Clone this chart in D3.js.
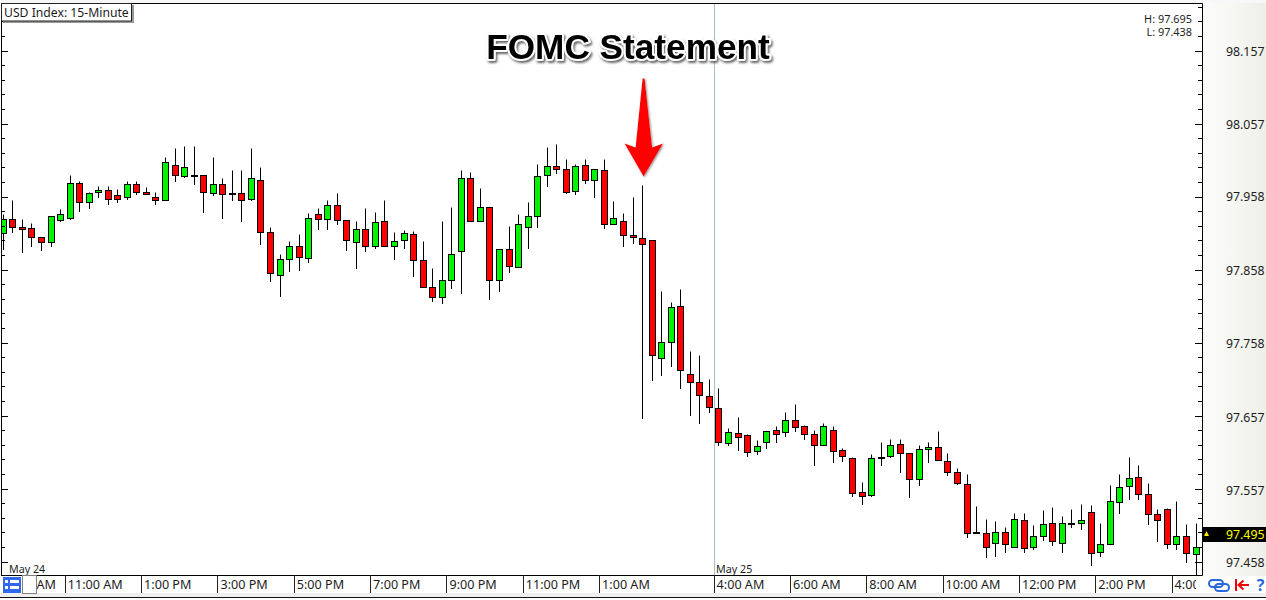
<!DOCTYPE html>
<html><head><meta charset="utf-8">
<script src="https://cdn.jsdelivr.net/npm/d3@7/dist/d3.min.js"></script>
<style>
html,body{margin:0;padding:0;background:#fff;overflow:hidden}
svg{display:block}
text{font-family:"Noto Sans",sans-serif;fill:#1c1c1c}
</style></head><body>
<script>
const opens=[97.908,97.927,97.916,97.914,97.902,97.895,97.925,97.928,97.976,97.950,
97.964,97.966,97.960,97.956,97.975,97.964,97.957,97.953,98.001,97.986,
97.987,97.987,97.962,97.975,97.962,97.962,97.954,97.980,97.909,97.850,
97.872,97.890,97.873,97.934,97.927,97.946,97.925,97.895,97.913,97.890,
97.924,97.890,97.898,97.906,97.871,97.834,97.820,97.843,97.883,97.982,
97.924,97.943,97.843,97.886,97.861,97.916,97.931,97.987,97.999,97.995,
97.965,98.001,97.980,97.994,97.919,97.924,97.905,97.901,97.898,97.736,
97.758,97.807,97.714,97.704,97.684,97.668,97.620,97.634,97.631,97.609,
97.621,97.638,97.635,97.652,97.643,97.632,97.617,97.638,97.611,97.599,
97.553,97.549,97.601,97.602,97.619,97.606,97.571,97.612,97.615,97.595,
97.580,97.564,97.498,97.497,97.483,97.498,97.478,97.515,97.478,97.493,
97.511,97.483,97.510,97.511,97.526,97.471,97.482,97.539,97.561,97.574,
97.550,97.523,97.530,97.482,97.493,97.468];
const highs=[97.933,97.952,97.927,97.921,97.902,97.931,97.940,97.987,97.979,97.964,
97.972,97.971,97.968,97.979,97.979,97.970,97.964,98.012,98.023,98.027,
98.027,97.987,98.012,97.983,97.993,97.994,98.023,97.997,97.916,97.879,
97.897,97.906,97.935,97.942,97.953,97.962,97.925,97.924,97.942,97.936,
97.953,97.909,97.912,97.910,97.897,97.860,97.924,97.943,97.994,97.991,
97.969,97.943,97.886,97.917,97.934,97.950,98.002,98.025,98.029,98.009,
98.002,98.008,97.995,98.008,97.951,97.935,97.957,97.973,97.898,97.828,
97.813,97.831,97.746,97.740,97.708,97.695,97.641,97.656,97.632,97.624,
97.636,97.643,97.662,97.673,97.645,97.638,97.647,97.643,97.613,97.601,
97.567,97.605,97.621,97.625,97.625,97.606,97.617,97.621,97.637,97.606,
97.586,97.578,97.534,97.516,97.513,97.505,97.524,97.524,97.508,97.528,
97.533,97.520,97.530,97.537,97.535,97.511,97.563,97.578,97.601,97.590,
97.565,97.530,97.531,97.541,97.509,97.511];
const lows=[97.886,97.909,97.881,97.889,97.884,97.889,97.924,97.926,97.938,97.941,
97.956,97.947,97.950,97.954,97.961,97.961,97.947,97.953,97.978,97.984,
97.974,97.936,97.959,97.928,97.952,97.924,97.952,97.892,97.842,97.821,
97.855,97.857,97.868,97.913,97.913,97.919,97.884,97.859,97.883,97.887,
97.890,97.872,97.887,97.848,97.834,97.814,97.811,97.832,97.825,97.924,
97.924,97.817,97.828,97.854,97.861,97.887,97.915,97.971,97.989,97.962,
97.961,97.976,97.956,97.914,97.919,97.889,97.894,97.654,97.706,97.713,
97.726,97.695,97.658,97.647,97.662,97.617,97.617,97.611,97.602,97.605,
97.613,97.621,97.629,97.636,97.625,97.590,97.617,97.594,97.595,97.547,
97.536,97.548,97.590,97.601,97.581,97.546,97.563,97.594,97.597,97.576,
97.564,97.492,97.497,97.464,97.465,97.471,97.478,97.471,97.475,97.488,
97.480,97.471,97.505,97.503,97.453,97.465,97.482,97.524,97.544,97.544,
97.509,97.486,97.476,97.475,97.458,97.440];
const closes=[97.927,97.916,97.913,97.902,97.895,97.931,97.934,97.976,97.950,97.962,
97.966,97.954,97.954,97.975,97.964,97.961,97.953,98.005,97.987,97.998,
97.986,97.964,97.975,97.961,97.961,97.953,97.982,97.909,97.852,97.872,
97.890,97.875,97.928,97.927,97.946,97.925,97.898,97.913,97.890,97.923,
97.890,97.897,97.908,97.871,97.834,97.820,97.843,97.879,97.983,97.924,
97.943,97.843,97.886,97.862,97.919,97.931,97.986,97.999,97.995,97.964,
97.999,97.980,97.995,97.919,97.928,97.905,97.902,97.892,97.740,97.758,
97.806,97.720,97.704,97.686,97.669,97.621,97.635,97.628,97.608,97.616,
97.636,97.632,97.652,97.642,97.632,97.617,97.643,97.609,97.602,97.552,
97.547,97.599,97.599,97.617,97.606,97.571,97.612,97.615,97.597,97.580,
97.565,97.497,97.497,97.478,97.498,97.482,97.516,97.476,97.493,97.509,
97.486,97.511,97.511,97.515,97.470,97.482,97.541,97.560,97.572,97.550,
97.523,97.515,97.482,97.493,97.470,97.478];
const priceLabels=["98.157","98.057","97.958","97.858","97.758","97.657","97.557","97.458"];
const timeLabels=["9:00 AM","11:00 AM","1:00 PM","3:00 PM","5:00 PM","7:00 PM","9:00 PM","11:00 PM","1:00 AM","4:00 AM","6:00 AM","8:00 AM","10:00 AM","12:00 PM","2:00 PM","4:00 PM"];
const timeBars=[1.75,8,16,24,32,40,48,56,64,76,84,92,100,108,116,124];
const dateLabels=["May 24","May 25"];
const dateBars=[1,76];
const chartTitle="USD Index: 15-Minute";
const headline="FOMC Statement";
const highLow=["H: 97.695","L: 97.438"];
const lastPrice=97.495;
const eventBar=68;

const W=1266,H=600,L=1,T=3,R=1202,B=575;
const svg=d3.select("body").append("svg").attr("width",W).attr("height",H);
const defs=svg.append("defs");
const grad=defs.append("linearGradient").attr("id","panel");
grad.append("stop").attr("offset","0").attr("stop-color","#fcfcfb");
grad.append("stop").attr("offset","1").attr("stop-color","#efefe9");
defs.append("clipPath").attr("id","plot").append("rect").attr("x",L).attr("y",T).attr("width",R-L).attr("height",B-T);
defs.append("clipPath").attr("id","strip").append("rect").attr("x",L).attr("y",B).attr("width",1196-L).attr("height",20);
const blur=defs.append("filter").attr("id","arrowShadow").attr("x","-30%").attr("y","-10%").attr("width","170%").attr("height","125%");
blur.append("feDropShadow").attr("dx",1).attr("dy",1).attr("stdDeviation",1).attr("flood-color","#777").attr("flood-opacity",.8);
const tshadow=defs.append("filter").attr("id","textShadow").attr("x","-5%").attr("y","-30%").attr("width","110%").attr("height","170%");
tshadow.append("feDropShadow").attr("dx",1.5).attr("dy",2).attr("stdDeviation",1.2).attr("flood-color","#555").attr("flood-opacity",.9);

const y=d3.scaleLinear().domain([+priceLabels[7],+priceLabels[0]]).range([562,51]);
const x=d3.scaleLinear().domain([1,126]).range([3.3,1196]);
const px=v=>Math.floor(v)+.5;

// backgrounds
svg.append("rect").attr("x",R+1).attr("y",0).attr("width",W-R-1).attr("height",B+1).attr("fill","url(#panel)");
svg.append("rect").attr("x",0).attr("y",0).attr("width",W).attr("height",T).attr("fill","#f6f7f7");
svg.append("rect").attr("x",0).attr("y",593).attr("width",W).attr("height",4).attr("fill","#efefef");
svg.append("rect").attr("x",0).attr("y",597).attr("width",W).attr("height",1).attr("fill","#111");

// date separator
svg.append("line").attr("x1",px(x(76)-4.8)).attr("x2",px(x(76)-4.8)).attr("y1",T).attr("y2",B).attr("stroke","#a9c2b4");

// candles
const plot=svg.append("g").attr("clip-path","url(#plot)");
const idx=d3.range(opens.length);
plot.selectAll("line.w").data(idx).join("line").attr("class","w")
 .attr("x1",i=>px(x(i+1))).attr("x2",i=>px(x(i+1)))
 .attr("y1",i=>px(y(highs[i]))).attr("y2",i=>px(y(lows[i]))+.5)
 .attr("stroke","#000").attr("stroke-width",1);
plot.selectAll("rect.b").data(idx).join("rect").attr("class","b")
 .attr("x",i=>px(x(i+1))-3).attr("width",6)
 .attr("y",i=>px(y(Math.max(opens[i],closes[i]))))
 .attr("height",i=>Math.max(1,px(y(Math.min(opens[i],closes[i])))-px(y(Math.max(opens[i],closes[i])))))
 .attr("fill",i=>closes[i]>opens[i]?"#00f400":"#ff0000")
 .attr("stroke","#000").attr("stroke-width",1);

// frame
const frame=svg.append("g").attr("stroke","#000").attr("fill","none").attr("stroke-width",1);
frame.append("path").attr("d",d3.line()([[L+.5,B],[L+.5,T+.5],[R+.5,T+.5],[R+.5,B+.5],[L,B+.5]]));

// price ticks
const ys=priceLabels.map(p=>y(+p));
const stepPx=(ys[7]-ys[0])/35;
const tickYs=d3.range(-3,36).map(j=>({v:ys[0]+j*stepPx,maj:(j%5+5)%5===0}));
const ticks=svg.append("g").attr("stroke","#000");
ticks.selectAll("line.r").data(tickYs).join("line").attr("class","r")
 .attr("x1",d=>d.maj?R-7:R-4).attr("x2",R).attr("y1",d=>px(d.v)).attr("y2",d=>px(d.v));
ticks.selectAll("line.l").data(tickYs).join("line").attr("class","l")
 .attr("x1",L+1).attr("x2",d=>d.maj?L+7:L+4).attr("y1",d=>px(d.v)).attr("y2",d=>px(d.v));

svg.append("g").selectAll("text").data(priceLabels).join("text")
 .attr("x",1226).attr("y",p=>Math.round(y(+p))+4.5).attr("font-size",12.3).text(p=>p);

// last price tag
const tagY=Math.round(y(lastPrice));
svg.append("rect").attr("x",R+1).attr("y",tagY-8).attr("width",W-R-1).attr("height",15).attr("fill","#000");
svg.append("path").attr("d",d3.line()([[1204,tagY+1],[1209,tagY+1],[1206.5,tagY-4]])).attr("fill","#ffee00");
svg.append("text").attr("x",1226).attr("y",tagY+4).attr("font-size",12.3).style("fill","#ffff00").text(lastPrice.toFixed(3));

// high / low
svg.append("g").selectAll("text").data(highLow).join("text")
 .attr("x",1192).attr("y",(d,i)=>23+i*13).attr("text-anchor","end").attr("font-size",10.9).text(d=>d);

// time axis
svg.append("rect").attr("x",L).attr("y",B+1).attr("width",W-L).attr("height",17).attr("fill","#fff");
const tx=i=>x(timeBars[i])-4.8;
const strip=svg.append("g").attr("clip-path","url(#strip)");
strip.selectAll("line").data(timeLabels).join("line")
 .attr("x1",(d,i)=>px(tx(i))).attr("x2",(d,i)=>px(tx(i))).attr("y1",B).attr("y2",593).attr("stroke","#222");
strip.selectAll("text").data(timeLabels).join("text")
 .attr("x",(d,i)=>tx(i)+2.5).attr("y",589).attr("font-size",12.6).text(d=>d);

// date labels
svg.append("g").selectAll("text").data(dateLabels).join("text")
 .attr("x",(d,i)=>i===0?9:x(dateBars[i])-2.8).attr("y",573).attr("font-size",10.7).text(d=>d);

// bottom-left buttons
svg.append("rect").attr("x",1).attr("y",576).attr("width",22).attr("height",17).attr("fill","#fff");
svg.append("rect").attr("x",22.5).attr("y",575.5).attr("width",14).attr("height",18).attr("fill","#fff").attr("stroke","#808080");
svg.append("rect").attr("x",3).attr("y",577).attr("width",18).attr("height",16).attr("fill","#2f68ec");
[580,586].forEach(v=>{
  svg.append("rect").attr("x",5).attr("y",v).attr("width",3).attr("height",3).attr("fill","#fff");
  svg.append("rect").attr("x",10).attr("y",v).attr("width",9).attr("height",3).attr("fill","#fff");
});

// bottom-right buttons
const blue="#2868dc";
const chain=svg.append("g").attr("fill","none").attr("stroke",blue).attr("stroke-width",2);
chain.append("rect").attr("x",1209).attr("y",580).attr("width",14).attr("height",7).attr("rx",3.5);
chain.append("rect").attr("x",1215).attr("y",584).attr("width",14).attr("height",7).attr("rx",3.5);
svg.append("rect").attr("x",1235).attr("y",579).attr("width",2).attr("height",12).attr("fill","#f00000");
svg.append("path").attr("d","M1238.5 585H1249M1243.5 580.5L1238.5 585L1243.5 589.5").attr("fill","none").attr("stroke","#f00000").attr("stroke-width",2);
svg.append("text").attr("x",1260.5).attr("y",591).attr("text-anchor","middle").attr("font-size",16).attr("font-weight",700).style("fill",blue).text("?");

// title box
svg.append("rect").attr("x",3).attr("y",5).attr("width",131).attr("height",18).attr("fill","#999");
svg.append("rect").attr("x",1.5).attr("y",3.5).attr("width",130).attr("height",17.5).attr("fill","#fff").attr("stroke","#222");
svg.append("text").attr("x",4).attr("y",16.5).attr("font-size",12.2).text(chartTitle);

// annotation
const ax=x(eventBar)+1, ay=y(highs[eventBar-1])-9;
svg.append("path").attr("filter","url(#arrowShadow)").attr("fill","#ff0000")
 .attr("d",d3.line()([[ax-1,ay-98],[ax+1,ay-98],[ax+8.5,ay-29],[ax+19.5,ay-33],[ax,ay],[ax-19,ay-33],[ax-8,ay-29]]));
svg.append("text").attr("x",628).attr("y",58.5).attr("text-anchor","middle")
 .attr("filter","url(#textShadow)")
 .style("font-family","'Liberation Sans',Arial,sans-serif").style("font-weight",700).style("font-size","35.2px")
 .style("fill","#000").style("stroke","#fff").style("stroke-width","4px").style("stroke-linejoin","round").style("paint-order","stroke")
 .text(headline);
</script>
</body></html>
